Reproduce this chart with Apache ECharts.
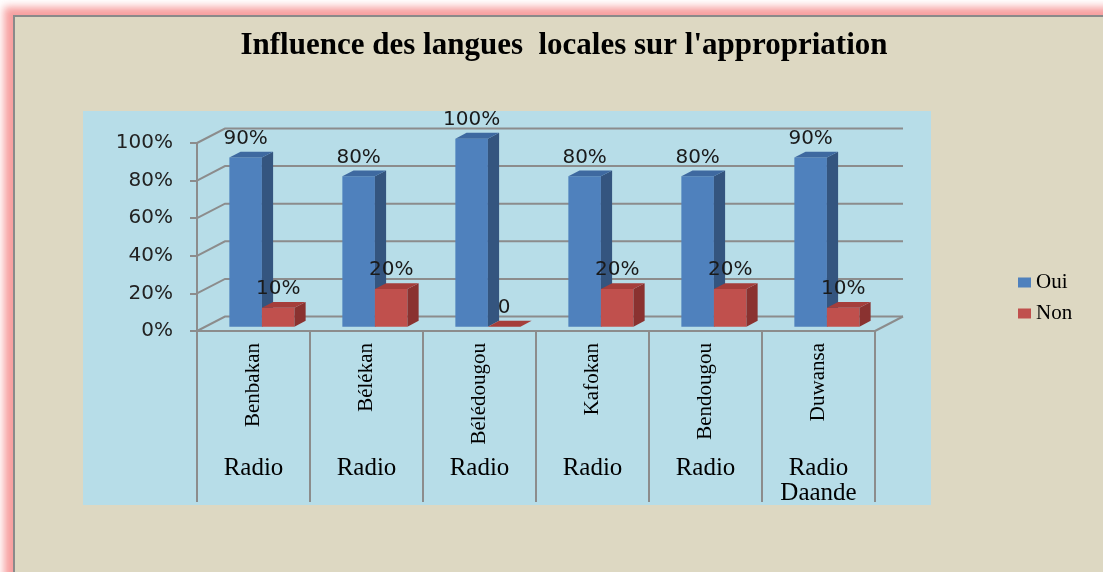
<!DOCTYPE html>
<html>
<head>
<meta charset="utf-8">
<script src="https://cdn.jsdelivr.net/npm/echarts@6/dist/echarts.min.js"></script>
<style>
  html, body { margin: 0; padding: 0; background: #fff; }
  #wrap { position: relative; width: 1103px; height: 572px; overflow: hidden; background: #fff; }
  #frame {
    position: absolute; left: 13px; top: 15px; width: 1120px; height: 600px;
    background: #DDD8C2;
    border-left: 2px solid #8a8a8a; border-top: 2px solid #8a8a8a;
    box-shadow: -4px -3px 8px 5px rgba(245, 135, 135, 0.8);
  }
  #main { position: absolute; left: 0; top: 0; width: 1103px; height: 572px; }
</style>
</head>
<body>
<div id="wrap">
  <div id="frame"></div>
  <div id="main"></div>
</div>
<script>
var categories = ['Benbakan', 'Bélékan', 'Bélédougou', 'Kafokan', 'Bendougou', 'Duwansa'];
var radioLabels = ['Radio', 'Radio', 'Radio', 'Radio', 'Radio', 'Radio\nDaande'];
var oui = [90, 80, 100, 80, 80, 90];
var non = [10, 20, 0, 20, 20, 10];
var yTicks = [0, 20, 40, 60, 80, 100];

// fake 3d depth (front plane -> back wall)
var DX = 28, DY = -14.5;
var T0 = 0.3, T1 = 0.7;
var gridColor = '#8c8c8c';

var colors = {
    oui: { front: '#4F81BD', side: '#34557F', top: '#3E69A0' },
    non: { front: '#C0504D', side: '#8A3230', top: '#A53E3B' }
};

function wallItem(params, api) {
    var v = api.value(0);
    var bw = api.size([1, 0])[0];
    var l = api.coord([0, v]);
    var r = api.coord([categories.length - 1, v]);
    var x0 = l[0] - bw / 2, x1 = r[0] + bw / 2, y = l[1];
    var children = [{
        type: 'polyline',
        shape: { points: [[x0, y], [x0 + DX, y + DY], [x1 + DX, y + DY]] },
        style: { stroke: gridColor, lineWidth: 2, fill: null }
    }];
    if (v === 0) {
        children.push({
            type: 'line',
            shape: { x1: x1, y1: y, x2: x1 + DX, y2: y + DY },
            style: { stroke: gridColor, lineWidth: 2 }
        });
    }
    return { type: 'group', children: children };
}

function barRender(idx, col) {
    return function (params, api) {
        var ci = api.value(0), v = api.value(1);
        var bw = api.size([1, 0])[0];
        var barW = bw * 0.288;
        var top = api.coord([ci, v]);
        var bot = api.coord([ci, 0]);
        var x0 = top[0] - barW + idx * barW + T0 * DX;
        var yTop = top[1] + T0 * DY, yBot = bot[1] + T0 * DY;
        var dx = (T1 - T0) * DX, dy = (T1 - T0) * DY;
        var x1 = x0 + barW;
        return {
            type: 'group',
            children: [
                { type: 'rect', shape: { x: x0, y: yTop, width: barW, height: yBot - yTop },
                  style: { fill: col.front } },
                { type: 'polygon', shape: { points: [[x1, yTop], [x1 + dx, yTop + dy], [x1 + dx, yBot + dy], [x1, yBot]] },
                  style: { fill: col.side } },
                { type: 'polygon', shape: { points: [[x0, yTop], [x0 + dx, yTop + dy], [x1 + dx, yTop + dy], [x1, yTop]] },
                  style: { fill: col.top } },
                { type: 'text', x: x0 + barW / 2, y: yTop + dy - 3,
                  style: { text: v === 0 ? '0' : v + '%', fill: '#1a1a1a',
                           font: '20px "DejaVu Sans"', align: 'center', verticalAlign: 'bottom' } }
            ]
        };
    };
}

var chart = echarts.init(document.getElementById('main'), null, { renderer: 'canvas' });
var option = {
    backgroundColor: 'transparent',
    animation: false,
    title: {
        text: "Influence des langues  locales sur l'appropriation",
        left: 559, top: 25, textAlign: 'center',
        textStyle: { fontFamily: 'Liberation Serif', fontWeight: 'bold', fontSize: 31, color: '#000' }
    },
    graphic: [{
        type: 'rect', z: -10,
        shape: { x: 83, y: 111, width: 848, height: 394 },
        style: { fill: '#B7DDE8' }
    }],
    legend: {
        orient: 'vertical', left: 1013, top: 267,
        itemWidth: 13, itemHeight: 10, itemGap: 10,
        icon: 'rect',
        textStyle: { fontFamily: 'Liberation Serif', fontSize: 21, color: '#000' },
        data: ['Oui', 'Non']
    },
    grid: { left: 197, right: 228, top: 143, bottom: 241 },
    xAxis: [{
        type: 'category', data: categories, position: 'bottom',
        axisLine: { lineStyle: { color: gridColor, width: 2 } },
        axisTick: { show: true, interval: 0, length: 171, lineStyle: { color: gridColor, width: 2 } },
        axisLabel: { interval: 0, rotate: 90, margin: 12, fontFamily: 'Liberation Serif', fontSize: 21, color: '#000' }
    }, {
        type: 'category', data: radioLabels, position: 'bottom', offset: 0,
        axisLine: { show: false }, axisTick: { show: false },
        axisLabel: { interval: 0, margin: 125, fontFamily: 'Liberation Serif', fontSize: 25, lineHeight: 25, color: '#000' }
    }],
    yAxis: {
        type: 'value', min: 0, max: 100, interval: 20,
        axisLine: { show: true, lineStyle: { color: gridColor, width: 2 } },
        axisTick: { show: true, length: 7, lineStyle: { color: gridColor, width: 2 } },
        splitLine: { show: false },
        axisLabel: { formatter: '{value}%', margin: 24, fontFamily: 'DejaVu Sans', fontSize: 20, color: '#222' }
    },
    series: [{
        name: 'wall', type: 'custom', z: 1, silent: true,
        renderItem: wallItem,
        encode: { y: 0 },
        data: yTicks.map(function (v) { return [v]; })
    }, {
        name: 'Oui', type: 'custom', z: 3,
        itemStyle: { color: colors.oui.front },
        renderItem: barRender(0, colors.oui),
        encode: { x: 0, y: 1 },
        data: oui.map(function (v, i) { return [i, v]; })
    }, {
        name: 'Non', type: 'custom', z: 4,
        itemStyle: { color: colors.non.front },
        renderItem: barRender(1, colors.non),
        encode: { x: 0, y: 1 },
        data: non.map(function (v, i) { return [i, v]; })
    }]
};
chart.setOption(option);
</script>
</body>
</html>
